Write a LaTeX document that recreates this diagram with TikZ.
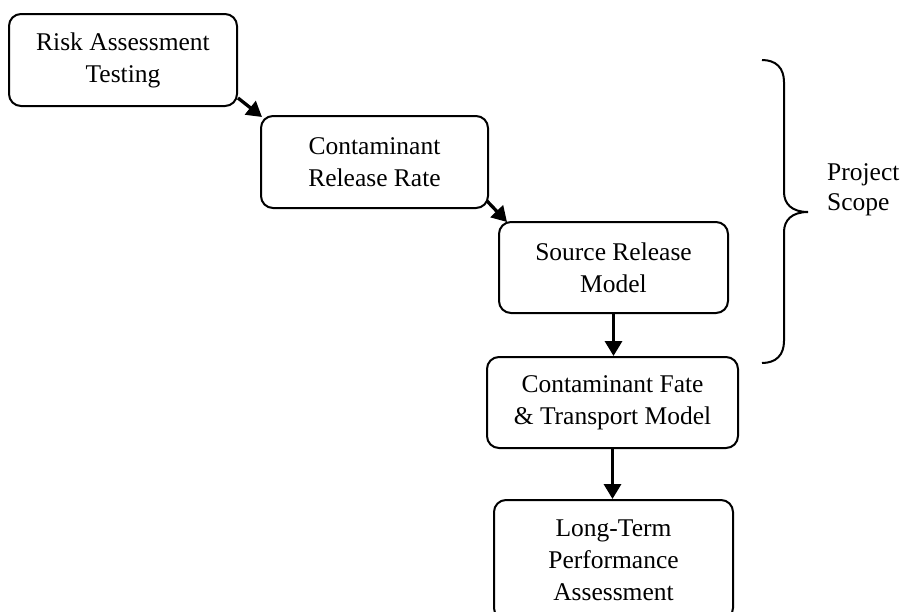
\documentclass[tikz,border=0pt]{standalone}
\usepackage{fontspec}
\setmainfont{Liberation Serif}
\usetikzlibrary{arrows.meta}
\begin{document}
\begin{tikzpicture}[x=1pt,y=-1pt,
  stage/.style={draw, line width=2pt, rounded corners=12pt, align=center,
    inner sep=0pt, font=\fontsize{25.5}{32}\selectfont},
  flow/.style={line width=3.3pt, -{Triangle[length=15pt,width=17pt]}},
  label/.style={align=left, anchor=west, inner sep=0pt, font=\fontsize{25.5}{30}\selectfont}]
\useasboundingbox (0,0) rectangle (907,611);
\clip (0,0) rectangle (907,611);
\node[stage, minimum width=228pt, minimum height=92pt] (b1) at (123,60) {Risk Assessment\\Testing};
\node[stage, minimum width=227pt, minimum height=92pt] (b2) at (374.5,162) {Contaminant\\Release Rate};
\node[stage, minimum width=229pt, minimum height=91pt] (b3) at (613.5,267.5) {Source Release\\Model};
\node[stage, minimum width=251pt, minimum height=91pt] (b4) at (612.5,402.5) {Contaminant Fate\\\& Transport Model};
\node[stage, minimum width=239pt, minimum height=120pt] (b5) at (613.5,560) {Long-Term\\Performance\\Assessment};
\draw[flow] ([shift={(0pt,9pt)}]b1.south east) -- ([shift={(2pt,-2pt)}]b2.north west);
\draw[flow] ([shift={(-2pt,8pt)}]b2.south east) -- ([shift={(9pt,-1pt)}]b3.north west);
\draw[flow] (b3.south) -- (b3.south |- b4.north);
\draw[flow] (b4.south) -- (b4.south |- b5.north);
\draw[line width=2pt] (762,60) .. controls (776,60) and (784,68) .. (784,82) -- (784,192)
  .. controls (784,204) and (792,212) .. (808,212)
  .. controls (792,212) and (784,220) .. (784,232) -- (784,341)
  .. controls (784,355) and (776,363) .. (762,363);
\node[label] (scope) at (827,190) {Project\\Scope};
\end{tikzpicture}
\end{document}
